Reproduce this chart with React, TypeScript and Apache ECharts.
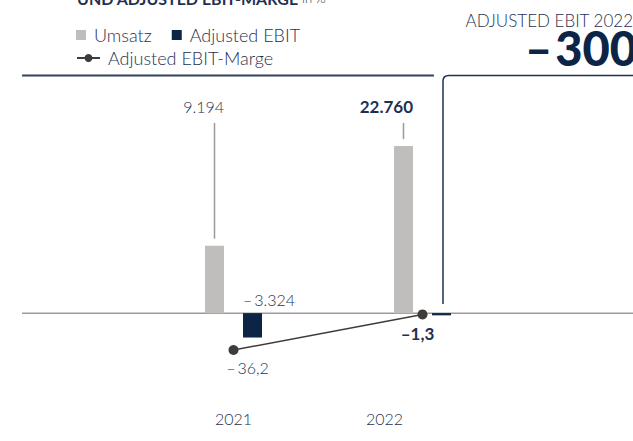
import React, { useEffect, useRef } from "react";
import * as echarts from "echarts";

// ---- data ----
const categories = ["2021", "2022"];
const umsatz = [9194, 22760];
const adjustedEbit = [-3324, -300];
const ebitMarge = [-36.2, -1.3];
const titleMain = "UND ADJUSTED EBIT-MARGE";
const titleUnit = "in %";
const seriesNames = ["Umsatz", "Adjusted EBIT", "Adjusted EBIT-Marge"];

const NAVY = "#0c2446";
const TEXT = "#1f3152";
const GREY = "#bfbebc";
const LINE = "#3f3b38";
const FONT = "Lato";
const LIGHT = 300;

function fmt(v: number, dec: number, bold = false): string {
  const abs = Math.abs(v).toFixed(dec);
  const [int, fr] = abs.split(".");
  const intS = int.replace(/\B(?=(\d{3})+(?!\d))/g, ".");
  const body = fr ? intS + "," + fr : intS;
  return v < 0 ? (bold ? "\u2013" : "\u2013\u2009") + body : body;
}

echarts.graphic.registerShape(
  "boxFrame",
  echarts.graphic.extendPath("M443,304 L443,81 Q443,75.5 449,75.5 L640,75.5", {})
);

export default function App() {
  const ref = useRef<HTMLDivElement>(null);
  useEffect(() => {
    document.body.style.margin = "0";
    const chart = echarts.init(ref.current!, null, { renderer: "svg" });
    const BAR_W = 19;
    const hi = categories.length - 1;
    const legendText = {
      fontSize: 18,
      color: TEXT,
      fontFamily: FONT,
      fontWeight: LIGHT,
      padding: [0, 0, 0, 3],
    };
    const option: any = {
      animation: false,
      textStyle: { fontFamily: FONT },
      grid: { left: 139, right: 116, top: 93, bottom: 54.5 },
      legend: [
        {
          data: [seriesNames[0], seriesNames[1]],
          left: 76,
          top: 26,
          padding: 0,
          icon: "rect",
          itemWidth: 10,
          itemHeight: 10,
          itemGap: 20,
          selectedMode: false,
          textStyle: legendText,
        },
        {
          data: [seriesNames[2]],
          left: 76,
          top: 49,
          padding: 0,
          itemWidth: 23,
          itemHeight: 10,
          selectedMode: false,
          textStyle: legendText,
        },
      ],
      xAxis: {
        type: "category",
        data: categories,
        axisLine: { show: false },
        axisTick: { show: false },
        axisLabel: {
          margin: 24,
          fontSize: 16,
          fontWeight: LIGHT,
          color: TEXT,
          fontFamily: FONT,
          formatter: (v: string) => (v === categories[hi] ? `{s|${v}}` : v),
          rich: {
            s: {
              fontSize: 16,
              fontWeight: LIGHT,
              color: TEXT,
              fontFamily: FONT,
              padding: [0, 76, 0, 0],
            },
          },
        },
      },
      yAxis: [
        { type: "value", min: -10000, max: 30000, show: false },
        { type: "value", min: -72, max: 216, show: false },
      ],
      series: [
        {
          name: seriesNames[0],
          type: "bar",
          barWidth: BAR_W,
          barGap: "100%",
          itemStyle: { color: GREY },
          data: umsatz.map((v, i) => ({
            value: v,
            label: { fontWeight: i === hi ? "bold" : LIGHT, fontSize: i === hi ? 17 : 16 },
          })),
          label: {
            show: true,
            color: TEXT,
            fontFamily: FONT,
            formatter: (p: any) => fmt(p.value, 0),
          },
          labelLayout: (p: any) => ({
            x: p.rect.x + p.rect.width,
            y: 106,
            align: "right",
            verticalAlign: "middle",
          }),
        },
        {
          name: seriesNames[1],
          type: "bar",
          barWidth: BAR_W,
          itemStyle: { color: NAVY },
          data: adjustedEbit.map((v, i) => ({ value: v, label: { show: i !== hi } })),
          label: {
            show: true,
            color: TEXT,
            fontSize: 16,
            fontWeight: LIGHT,
            fontFamily: FONT,
            formatter: (p: any) => fmt(p.value, 0),
          },
          labelLayout: (p: any) => ({
            x: p.rect.x,
            y: Math.min(p.rect.y, p.rect.y + p.rect.height) - 14,
            align: "left",
            verticalAlign: "middle",
          }),
        },
        {
          name: seriesNames[2],
          type: "line",
          yAxisIndex: 1,
          symbol: "circle",
          symbolSize: 10,
          z: 5,
          itemStyle: { color: LINE },
          lineStyle: { color: LINE, width: 1.5 },
          data: ebitMarge.map((v, i) => ({
            value: v,
            label: {
              offset: i === hi ? [-5, 2] : [14, 0],
              fontWeight: i === hi ? "bold" : LIGHT,
              fontSize: i === hi ? 17 : 16,
            },
          })),
          label: {
            show: true,
            position: "bottom",
            distance: 4,
            color: TEXT,
            fontFamily: FONT,
            formatter: (p: any) => fmt(p.value, 1, p.dataIndex === hi),
          },
        },
        {
          type: "custom",
          silent: true,
          z: 1,
          encode: { x: 0, y: 1 },
          data: umsatz.map((v, i) => [i, v]),
          renderItem: (params: any, api: any) => {
            const p = api.coord([api.value(0), api.value(1)]);
            const x = p[0] - BAR_W;
            return {
              type: "line",
              shape: { x1: x, y1: 123, x2: x, y2: p[1] - 7 },
              style: { stroke: "#9a9a9a", lineWidth: 1.5 },
            };
          },
        },
      ],
    };
    chart.setOption(option);
    const zeroY = chart.convertToPixel({ yAxisIndex: 0 }, 0) as number;
    chart.setOption({
      graphic: [
        {
          type: "line",
          z: 0,
          shape: { x1: 22, y1: zeroY, x2: 633, y2: zeroY },
          style: { stroke: "#9b9b9b", lineWidth: 1.5 },
        },
        {
          type: "line",
          shape: { x1: 22, y1: 75.5, x2: 434, y2: 75.5 },
          style: { stroke: "#33425f", lineWidth: 2 },
        },
        {
          type: "boxFrame",
          x: 0,
          y: 0,
          style: { stroke: "#1d3055", lineWidth: 1.5, fill: "none" },
        },
        {
          type: "text",
          x: 77,
          y: -2,
          style: {
            text: `{b|${titleMain}} {n|${titleUnit}}`,
            verticalAlign: "middle",
            rich: {
              b: { fontSize: 16, fontWeight: "bold", fill: TEXT, fontFamily: FONT },
              n: { fontSize: 13, fontWeight: LIGHT, fill: TEXT, fontFamily: FONT },
            },
          },
        },
        {
          type: "text",
          x: 633,
          y: 20,
          style: {
            text: `ADJUSTED EBIT ${categories[hi]}`,
            align: "right",
            verticalAlign: "middle",
            fontSize: 17,
            fontWeight: LIGHT,
            fill: TEXT,
            fontFamily: FONT,
          },
        },
        {
          type: "text",
          x: 637,
          y: 48,
          style: {
            text: fmt(adjustedEbit[hi], 0, true).replace("\u2013", "\u2013\u200a"),
            align: "right",
            verticalAlign: "middle",
            fontSize: 47,
            fontWeight: 900,
            fill: NAVY,
            fontFamily: FONT,
          },
        },
      ],
    });
    return () => chart.dispose();
  }, []);
  return <div ref={ref} style={{ width: 633, height: 441 }} />;
}
